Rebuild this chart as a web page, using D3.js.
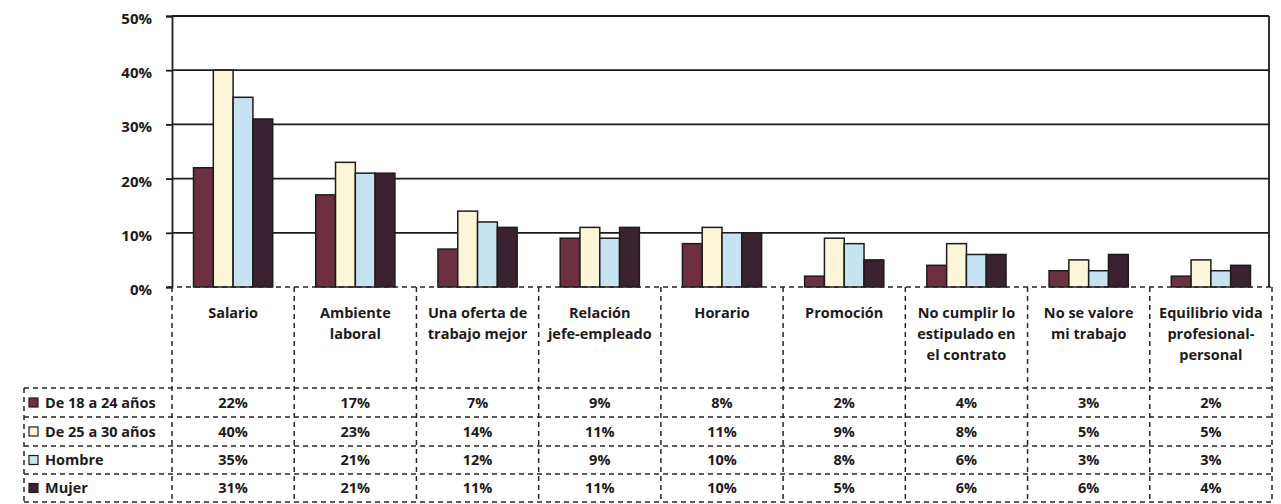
<!DOCTYPE html>
<html>
<head>
<meta charset="utf-8">
<script src="https://cdn.jsdelivr.net/npm/d3@7/dist/d3.min.js"></script>
<style>
  html, body { margin: 0; padding: 0; background: #fff; }
  svg { display: block; }
  text { font-family: "Open Sans", "Noto Sans", sans-serif; font-weight: 700; fill: #1e1a1c; }
</style>
</head>
<body>
<svg id="chart" width="1281" height="504"></svg>
<script>
// Motivos de cambio de empleo, por grupo
const categories = [
  ["Salario"],
  ["Ambiente", "laboral"],
  ["Una oferta de", "trabajo mejor"],
  ["Relación", "jefe-empleado"],
  ["Horario"],
  ["Promoción"],
  ["No cumplir lo", "estipulado en", "el contrato"],
  ["No se valore", "mi trabajo"],
  ["Equilibrio vida", "profesional-", "personal"]
];
const seriesNames = ["De 18 a 24 años", "De 25 a 30 años", "Hombre", "Mujer"];
const seriesColors = ["#6d3040", "#fbf6d8", "#c6e3f1", "#3a2230"];
const de18a24 = [22, 17, 7, 9, 8, 2, 4, 3, 2];
const de25a30 = [40, 23, 14, 11, 11, 9, 8, 5, 5];
const hombre  = [35, 21, 12, 9, 10, 8, 6, 3, 3];
const mujer   = [31, 21, 11, 11, 10, 5, 6, 6, 4];
const yTicks = [0, 10, 20, 30, 40, 50];

const seriesValues = [de18a24, de25a30, hombre, mujer];
const svg = d3.select("#chart");

const plotLeft = 172, tableRight = 1272, plotRight = 1269;
const plotTop = 16, base = 287;
const rowEdges = [388, 417, 446, 474, 502];
const legendLeft = 24;
const fs = 14.5;

const catIdx = d3.range(categories.length);
const x = d3.scaleBand().domain(catIdx).range([plotLeft, tableRight]).padding(0);
const bw = x.bandwidth();
const xs = d3.scaleBand().domain(d3.range(seriesNames.length))
  .range([bw * 0.176, bw * 0.824]).padding(0);
const y = d3.scaleLinear().domain([0, 50]).range([base, plotTop]);

const ink = "#1f1b1d";

// horizontal grid lines
svg.append("g").selectAll("line")
  .data(yTicks.filter(t => t > 0))
  .join("line")
  .attr("x1", plotLeft).attr("x2", plotRight)
  .attr("y1", d => y(d)).attr("y2", d => y(d))
  .attr("stroke", ink).attr("stroke-width", 1.8);

// y axis with outward ticks
const yAxis = svg.append("g")
  .attr("transform", `translate(${plotLeft},0)`)
  .call(d3.axisLeft(y).tickValues(yTicks).tickSize(6).tickPadding(14).tickFormat(d => d + "%"));
yAxis.select(".domain").attr("stroke", ink).attr("stroke-width", 1.8);
yAxis.selectAll(".tick line").attr("stroke", ink).attr("stroke-width", 1.8);
yAxis.selectAll(".tick text")
  .attr("font-size", 15).attr("font-family", "'Open Sans', sans-serif")
  .attr("font-weight", 700).attr("fill", ink).attr("dy", "0.5em");

// right frame edge
svg.append("line")
  .attr("x1", plotRight).attr("x2", plotRight)
  .attr("y1", y(50)).attr("y2", y(0))
  .attr("stroke", ink).attr("stroke-width", 1.8);

// bars
const groups = svg.append("g").selectAll("g")
  .data(catIdx).join("g")
  .attr("transform", i => `translate(${x(i)},0)`);
groups.selectAll("rect")
  .data(i => seriesValues.map((vals, s) => ({ s, v: vals[i] })))
  .join("rect")
  .attr("x", d => xs(d.s))
  .attr("width", xs.bandwidth())
  .attr("y", d => y(d.v))
  .attr("height", d => y(0) - y(d.v))
  .attr("fill", d => seriesColors[d.s])
  .attr("stroke", ink).attr("stroke-width", 1.5);

// dashed table grid
const dash = "5,4";
const grid = svg.append("g").attr("stroke", "#2a2527").attr("stroke-width", 1.5)
  .attr("stroke-dasharray", dash).attr("fill", "none");
grid.append("line").attr("x1", plotLeft - 4).attr("x2", tableRight).attr("y1", base).attr("y2", base);
rowEdges.forEach(ry => {
  grid.append("line").attr("x1", legendLeft).attr("x2", tableRight).attr("y1", ry).attr("y2", ry);
});
d3.range(categories.length + 1).forEach(k => {
  const xx = k < categories.length ? x(k) : tableRight;
  grid.append("line").attr("x1", xx).attr("x2", xx).attr("y1", base).attr("y2", rowEdges[rowEdges.length - 1]);
});
grid.append("line").attr("x1", legendLeft).attr("x2", legendLeft)
  .attr("y1", rowEdges[0]).attr("y2", rowEdges[rowEdges.length - 1]);

// category headers
const header = svg.append("g");
catIdx.forEach(i => {
  const t = header.append("text")
    .attr("x", x(i) + bw / 2).attr("y", 318)
    .attr("text-anchor", "middle").attr("font-size", fs);
  categories[i].forEach((line, j) => {
    t.append("tspan").attr("x", x(i) + bw / 2).attr("dy", j === 0 ? 0 : 21).text(line);
  });
});

// table values and legend keys
const table = svg.append("g");
seriesValues.forEach((vals, s) => {
  const cy = (rowEdges[s] + rowEdges[s + 1]) / 2;
  vals.forEach((v, i) => {
    table.append("text")
      .attr("x", x(i) + bw / 2).attr("y", cy).attr("dy", "0.36em")
      .attr("text-anchor", "middle").attr("font-size", fs)
      .text(v + "%");
  });
  table.append("rect")
    .attr("x", 29).attr("y", cy - 4.5).attr("width", 9).attr("height", 9)
    .attr("fill", seriesColors[s]).attr("stroke", ink).attr("stroke-width", 1.2);
  table.append("text")
    .attr("x", 45).attr("y", cy).attr("dy", "0.36em")
    .attr("font-size", fs).text(seriesNames[s]);
});
</script>
</body>
</html>
